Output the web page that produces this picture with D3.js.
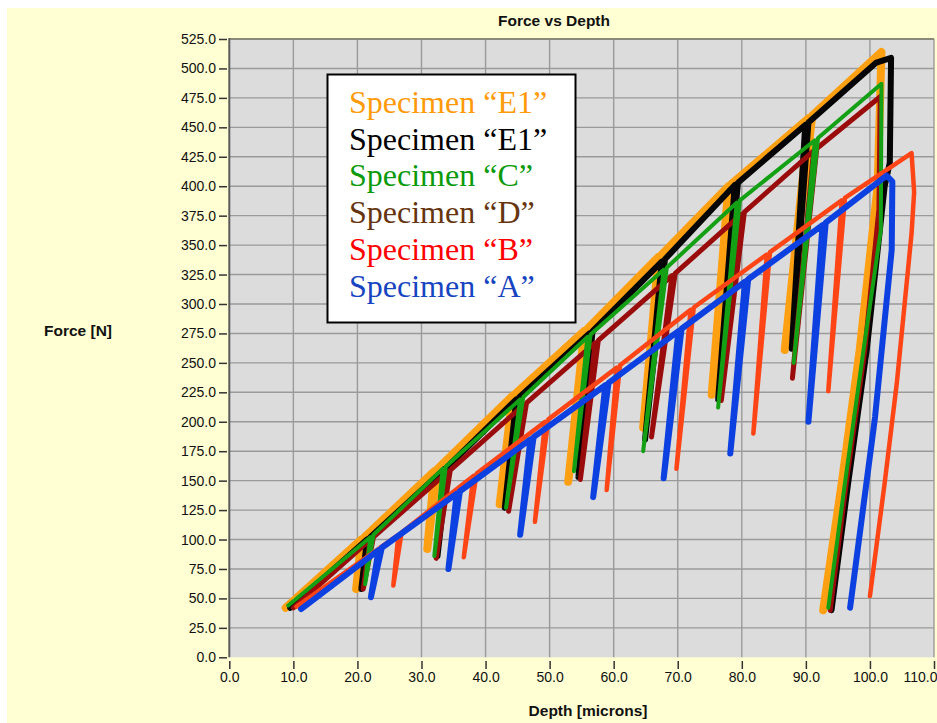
<!DOCTYPE html>
<html>
<head>
<meta charset="utf-8">
<script src="https://cdn.jsdelivr.net/npm/d3@7"></script>
<style>
  html, body { margin: 0; padding: 0; background: #ffffff; }
  svg { display: block; }
</style>
</head>
<body>
<svg id="chart" width="937" height="723"></svg>
<script>
// Axis ticks
const depthTicks = [0, 10, 20, 30, 40, 50, 60, 70, 80, 90, 100, 110];
const forceTicks = [0, 25, 50, 75, 100, 125, 150, 175, 200, 225, 250, 275, 300,
  325, 350, 375, 400, 425, 450, 475, 500, 525];

// Indentation traces, [depth (microns), force (N)]:
// loading, partial unload / reload cycles, then the final unload.
const specimenE1Orange = [
  [8.8, 42],
  [20.6, 100], [19.8, 58], [21.1, 102],
  [32.0, 158], [30.9, 92], [32.5, 160],
  [44.2, 222], [42.2, 130], [44.7, 224],
  [55.4, 277], [52.9, 149], [55.9, 279],
  [67.0, 340], [64.6, 195], [67.5, 342],
  [77.9, 400], [75.3, 223], [78.4, 402],
  [90.5, 458], [86.7, 261], [91.0, 460],
  [101.8, 514], [101.2, 400], [98.4, 261], [95.6, 148], [92.7, 40]
];
const specimenE1Black = [
  [9.5, 42],
  [21.5, 100], [20.6, 58], [22.0, 102],
  [33.6, 160], [32.5, 86], [34.1, 162],
  [44.8, 219], [43.0, 127], [45.3, 221],
  [56.2, 275], [54.5, 153], [56.7, 277],
  [67.5, 336], [64.9, 185], [68.0, 338],
  [78.9, 401], [76.3, 219], [79.4, 403],
  [89.9, 452], [87.8, 262], [90.4, 454],
  [101.0, 505], [103.3, 509], [103.1, 420], [102.3, 400], [99.5, 261], [96.6, 148], [94.0, 40]
];
const specimenC = [
  [9.2, 44],
  [22.0, 102], [21.2, 62], [22.5, 104],
  [33.3, 160], [32.0, 86], [33.8, 162],
  [45.4, 219], [43.2, 127], [45.9, 221],
  [55.9, 272], [53.8, 158], [56.4, 274],
  [67.8, 329], [64.6, 175], [68.3, 331],
  [79.2, 386], [76.3, 212], [79.7, 388],
  [91.4, 439], [88.1, 250], [91.9, 441],
  [101.8, 487], [101.7, 363], [99.0, 261], [96.1, 148], [93.5, 42]
];
const specimenD = [
  [10.0, 42],
  [22.0, 100], [20.9, 58], [22.5, 102],
  [34.0, 157], [32.3, 84], [34.5, 159],
  [45.9, 214], [43.6, 124], [46.4, 216],
  [57.1, 267], [54.8, 151], [57.6, 269],
  [69.1, 324], [65.9, 187], [69.6, 326],
  [79.9, 376], [76.8, 218], [80.4, 378],
  [91.2, 430], [87.9, 237], [91.7, 432],
  [101.6, 476], [101.4, 380], [99.2, 261], [96.3, 148], [93.8, 40]
];
const specimenB = [
  [10.5, 43],
  [26.4, 104], [25.6, 61], [26.9, 106],
  [38.1, 154], [36.6, 85], [38.6, 156],
  [49.3, 200], [47.7, 115], [49.8, 202],
  [60.5, 246], [58.9, 142], [61.0, 248],
  [72.0, 295], [69.8, 160], [72.5, 297],
  [83.9, 342], [81.8, 190], [84.4, 344],
  [95.6, 388], [93.5, 226], [96.1, 390],
  [106.5, 428], [106.9, 395], [106.5, 360], [104.2, 233], [102.3, 148], [100.0, 52]
];
const specimenA = [
  [11.2, 41],
  [23.3, 91], [22.1, 51], [23.8, 93],
  [35.5, 139], [34.2, 75], [36.0, 141],
  [47.0, 185], [45.4, 104], [47.5, 187],
  [58.7, 231], [56.8, 136], [59.2, 233],
  [70.1, 277], [67.8, 152], [70.6, 279],
  [80.5, 319], [78.2, 173], [81.0, 321],
  [92.6, 367], [90.4, 200], [93.1, 369],
  [102.6, 409], [103.5, 404], [103.4, 346], [100.8, 204], [96.9, 42]
];

// Drawing order (back to front) with stroke styles
const traces = [
  { data: specimenE1Orange, color: "#ffa012", width: 8 },
  { data: specimenE1Black, color: "#050505", width: 6 },
  { data: specimenD, color: "#9a0c0c", width: 5 },
  { data: specimenC, color: "#14a014", width: 4 },
  { data: specimenB, color: "#ff4416", width: 4.5 },
  { data: specimenA, color: "#0c40e0", width: 6 }
];

const legendLabels = ["Specimen \u201CE1\u201D", "Specimen \u201CE1\u201D", "Specimen \u201CC\u201D",
  "Specimen \u201CD\u201D", "Specimen \u201CB\u201D", "Specimen \u201CA\u201D"];
const legendColors = ["#ff9a0a", "#000000", "#0a9a0a", "#66350f", "#ff0000", "#1744c0"];

const svg = d3.select("#chart");

// Panel background
svg.append("rect").attr("x", 7).attr("y", 8).attr("width", 930).attr("height", 715)
  .attr("fill", "#ffffd3");

const x = d3.scaleLinear().domain([0, 110]).range([229.3, 934]);
const y = d3.scaleLinear().domain([0, 525]).range([657.3, 39]);

// Plot area
svg.append("rect")
  .attr("x", x(0)).attr("y", y(525))
  .attr("width", x(110) - x(0)).attr("height", y(0) - y(525))
  .attr("fill", "#dcdcdc");

const grid = svg.append("g").attr("stroke", "#9a9a9a").attr("stroke-width", 1.4);
grid.selectAll("line.v").data(depthTicks.filter(d => d > 0)).join("line")
  .attr("class", "v")
  .attr("x1", d => x(d)).attr("x2", d => x(d))
  .attr("y1", y(0)).attr("y2", y(525));
grid.selectAll("line.h").data(forceTicks.filter(d => d > 0)).join("line")
  .attr("class", "h")
  .attr("x1", x(0)).attr("x2", x(110))
  .attr("y1", d => y(d)).attr("y2", d => y(d));

// Plot frame: top edge and left axis line
svg.append("line").attr("x1", x(0)).attr("x2", x(110)).attr("y1", y(525)).attr("y2", y(525))
  .attr("stroke", "#8a8a78").attr("stroke-width", 2);
svg.append("line").attr("x1", x(0)).attr("x2", x(0)).attr("y1", y(525) - 1).attr("y2", y(0))
  .attr("stroke", "#5a5a5a").attr("stroke-width", 2);

// Traces
const line = d3.line().x(d => x(d[0])).y(d => y(d[1]));
svg.append("g").selectAll("path").data(traces).join("path")
  .attr("d", t => line(t.data))
  .attr("fill", "none")
  .attr("stroke", t => t.color)
  .attr("stroke-width", t => t.width)
  .attr("stroke-linejoin", "round")
  .attr("stroke-linecap", "round");

// Axes
const tickFont = "'Liberation Sans', Arial, sans-serif";
const yAxis = svg.append("g").attr("transform", "translate(227,0)")
  .call(d3.axisLeft(y).tickValues(forceTicks).tickFormat(d3.format(".1f"))
    .tickSize(8).tickPadding(3));
const xAxis = svg.append("g").attr("transform", "translate(0,661)")
  .call(d3.axisBottom(x).tickValues(depthTicks).tickFormat(d3.format(".1f"))
    .tickSize(8).tickPadding(3));
[yAxis, xAxis].forEach(a => {
  a.select(".domain").remove();
  a.selectAll(".tick line").attr("stroke", "#333").attr("stroke-width", 1.5);
  a.selectAll(".tick text").attr("fill", "#111")
    .style("font-family", tickFont).style("font-size", "14px");
});
// The last depth label sits at the panel's right edge; keep it inside
xAxis.selectAll(".tick text").filter(d => d === 110)
  .attr("text-anchor", "end").attr("x", 937 - x(110));

// Titles
const titleFont = "'Liberation Sans', Arial, sans-serif";
svg.append("text").attr("x", 554).attr("y", 26).attr("text-anchor", "middle")
  .style("font-family", titleFont).style("font-size", "15.5px").style("font-weight", "bold")
  .attr("fill", "#111").text("Force vs Depth");
svg.append("text").attr("x", 44).attr("y", 336)
  .style("font-family", titleFont).style("font-size", "15.5px").style("font-weight", "bold")
  .attr("fill", "#111").text("Force [N]");
svg.append("text").attr("x", 588).attr("y", 716).attr("text-anchor", "middle")
  .style("font-family", titleFont).style("font-size", "15.5px").style("font-weight", "bold")
  .attr("fill", "#111").text("Depth [microns]");

// Legend
const legend = svg.append("g");
legend.append("rect").attr("x", 327.5).attr("y", 74.5).attr("width", 248).attr("height", 248)
  .attr("fill", "#ffffff").attr("stroke", "#000").attr("stroke-width", 2);
legend.selectAll("text").data(legendLabels).join("text")
  .attr("x", 349).attr("y", (d, i) => 113 + i * 36.7)
  .style("font-family", "'Liberation Serif', 'Times New Roman', serif")
  .style("font-size", "32px")
  .attr("fill", (d, i) => legendColors[i])
  .text(d => d);
</script>
</body>
</html>
